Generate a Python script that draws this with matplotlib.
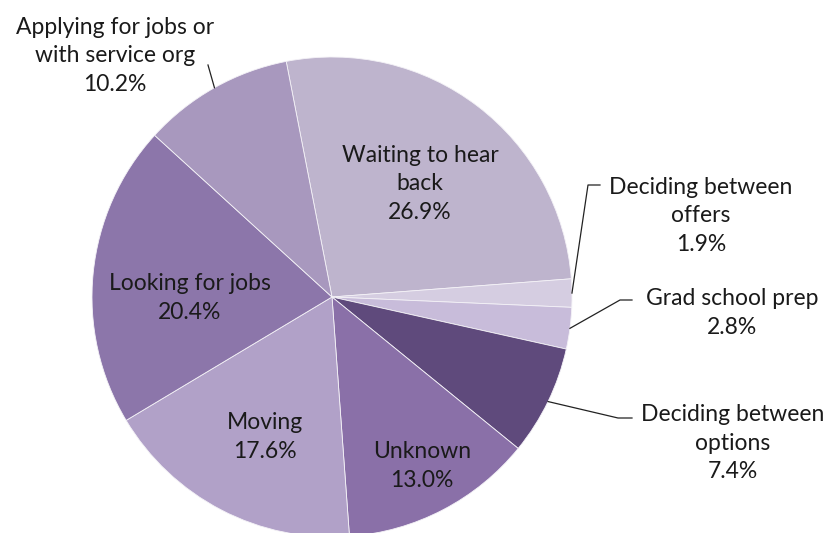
import numpy as np
import matplotlib.pyplot as plt

# status categories, clockwise from the top
labels = ['Waiting to hear\nback', 'Deciding between\noffers', 'Grad school prep',
          'Deciding between\noptions', 'Unknown', 'Moving', 'Looking for jobs',
          'Applying for jobs or\nwith service org']
pct = [26.9, 1.9, 2.8, 7.4, 13.0, 17.6, 20.4, 10.2]
colors = ['#BEB4CD', '#D5CDE1', '#C8BCDA', '#5F4A7C', '#8A70A8', '#B1A1C8',
          '#8C76AA', '#A898BE']

plt.rcParams['font.family'] = ['Lato', 'DejaVu Sans']

fig = plt.figure(figsize=(8.32, 5.33), dpi=100)
ax = fig.add_axes([0, 0, 1, 1])

cx, cy, R = 332, 533 - 297, 240
wedges, _ = ax.pie(pct, colors=colors, startangle=101, counterclock=False,
                   center=(cx, cy), radius=R, frame=False,
                   wedgeprops=dict(linewidth=0.6, edgecolor='#f4f2f7'))
ax.set_xlim(0, 832)
ax.set_ylim(0, 533)
ax.set_aspect('equal')
ax.axis('off')

fs = 16.5
txt = '#1a1a1a'

# labels placed inside the slices (pixel position, top-left origin)
inside = {0: (420, 184), 4: (422, 466), 5: (265, 437), 6: (190, 298)}
for i, (px, py) in inside.items():
    ax.text(px, 533 - py, f'{labels[i]}\n{pct[i]:.1f}%', ha='center', va='center',
            fontsize=fs, color=txt, linespacing=1.42)

# labels outside with leader lines: text position, elbow points
outside = {
    7: ((115, 56), [(208, 65)]),
    1: ((701, 216), [(588, 185), (600, 185)]),
    2: ((732, 313), [(620, 300), (632, 300)]),
    3: ((733, 443), [(618, 418), (632, 418)]),
}
for i, ((px, py), elbow) in outside.items():
    w = wedges[i]
    mid = np.deg2rad((w.theta1 + w.theta2) / 2)
    x0, y0 = cx + R * np.cos(mid), cy + R * np.sin(mid)
    xs = [x0] + [e[0] for e in elbow]
    ys = [y0] + [533 - e[1] for e in elbow]
    ax.plot(xs, ys, color='#222222', lw=0.9)
    ax.text(px, 533 - py, f'{labels[i]}\n{pct[i]:.1f}%', ha='center', va='center',
            fontsize=fs, color=txt, linespacing=1.42)

fig.savefig('out.png', dpi=100)
